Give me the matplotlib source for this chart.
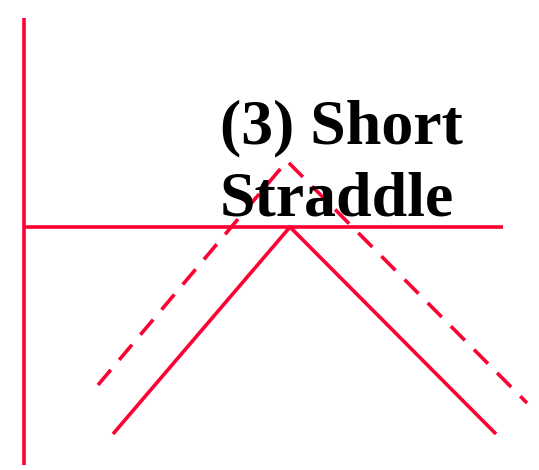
import matplotlib
matplotlib.use("Agg")
import matplotlib.pyplot as plt

# payoff diagram geometry (in picture units, y grows downward)
axis_v_x = [24, 24]
axis_v_y = [18, 465]
axis_h_x = [24, 503]
axis_h_y = [227, 227]
solid_x = [113, 290, 496]
solid_y = [434, 227, 434]
dashed_x = [98, 287, 527]
dashed_y = [385, 161, 403]
title_lines = ["(3) Short", "Straddle"]

red = "#FF0033"
fig = plt.figure(figsize=(5.39, 4.70), dpi=100)
ax = fig.add_axes([0, 0, 1, 1])
ax.set_xlim(0, 539)
ax.set_ylim(470, 0)
ax.axis("off")

lw = 2.6
ax.plot(axis_v_x, axis_v_y, color=red, lw=lw, solid_capstyle="butt")
ax.plot(axis_h_x, axis_h_y, color=red, lw=lw, solid_capstyle="butt")
ax.plot(solid_x, solid_y, color=red, lw=lw, solid_capstyle="butt")
ax.plot(dashed_x, dashed_y, color=red, lw=lw, linestyle=(0, (5.5, 3.6)),
        dash_capstyle="butt")

ax.text(220, 143, title_lines[0], fontsize=46, fontweight="bold",
        family="Liberation Serif", color="black", va="baseline", ha="left")
ax.text(220, 215, title_lines[1], fontsize=46, fontweight="bold",
        family="Liberation Serif", color="black", va="baseline", ha="left")

fig.savefig("out.png", dpi=100)
